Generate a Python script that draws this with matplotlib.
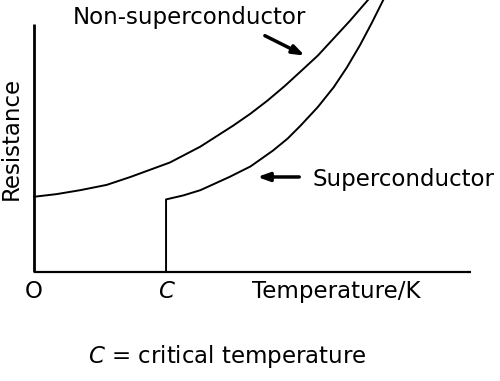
import matplotlib
matplotlib.use('Agg')
import matplotlib.pyplot as plt

# values (temperature in units of C, resistance arbitrary)
T_normal = [0.00, 0.17, 0.35, 0.55, 0.73, 1.03, 1.26, 1.51, 1.64, 1.77, 1.90, 2.02, 2.15, 2.27, 2.39, 2.52, 2.58]
R_normal = [0.57, 0.59, 0.62, 0.66, 0.72, 0.83, 0.95, 1.11, 1.20, 1.30, 1.41, 1.52, 1.64, 1.77, 1.90, 2.05, 2.12]

T_super = [1.00, 1.00, 1.13, 1.26, 1.37, 1.48, 1.64, 1.81, 1.92, 2.02, 2.15, 2.27, 2.37, 2.47, 2.56, 2.64, 2.70]
R_super = [0.00, 0.55, 0.58, 0.62, 0.67, 0.72, 0.80, 0.92, 1.01, 1.11, 1.25, 1.40, 1.55, 1.72, 1.89, 2.05, 2.17]

x_ticks = [0.0, 1.0]
x_tick_labels = ['O', 'C']
T_axis_end = 3.31
R_axis_top = 1.88

plt.rcParams['font.family'] = ['DejaVu Sans']
fs = 16.5

fig = plt.figure(figsize=(5, 3.81), dpi=100)
ax = fig.add_axes([0, 0, 1, 1])
ax.set_xlim(-0.258, 3.530)
ax.set_ylim(-0.826, 2.061)
ax.axis('off')

# axes drawn by hand like the sketch
ax.plot([0, 0], [0, R_axis_top], color='black', lw=2.0, solid_capstyle='butt')
ax.plot([0, T_axis_end], [0, 0], color='black', lw=1.6, solid_capstyle='butt')

ax.plot(T_normal, R_normal, color='black', lw=1.4)
ax.plot(T_super, R_super, color='black', lw=1.4)

for t, lab in zip(x_ticks, x_tick_labels):
    ax.text(t, -0.15, lab, ha='center', va='center', fontsize=fs,
            style='italic' if lab == 'C' else 'normal')
ax.text(1.65, -0.15, 'Temperature/K', ha='left', va='center', fontsize=fs)
ax.text(-0.17, 1.01, 'Resistance', ha='center', va='center', rotation=90, fontsize=fs)

ax.text(1.18, 1.93, 'Non-superconductor', ha='center', va='center', fontsize=fs)
ax.text(2.11, 0.70, 'Superconductor', ha='left', va='center', fontsize=fs)

arrow = dict(arrowstyle='-|>,head_length=0.7,head_width=0.25', color='black', lw=2.5)
ax.annotate('', xy=(2.07, 1.63), xytext=(1.73, 1.80), arrowprops=arrow)
ax.annotate('', xy=(1.67, 0.72), xytext=(2.03, 0.72), arrowprops=arrow)

fig.text(0.176, 0.063, r'$\mathit{C}$ = critical temperature', ha='left', va='center', fontsize=fs)

fig.savefig('out.png', dpi=100)
